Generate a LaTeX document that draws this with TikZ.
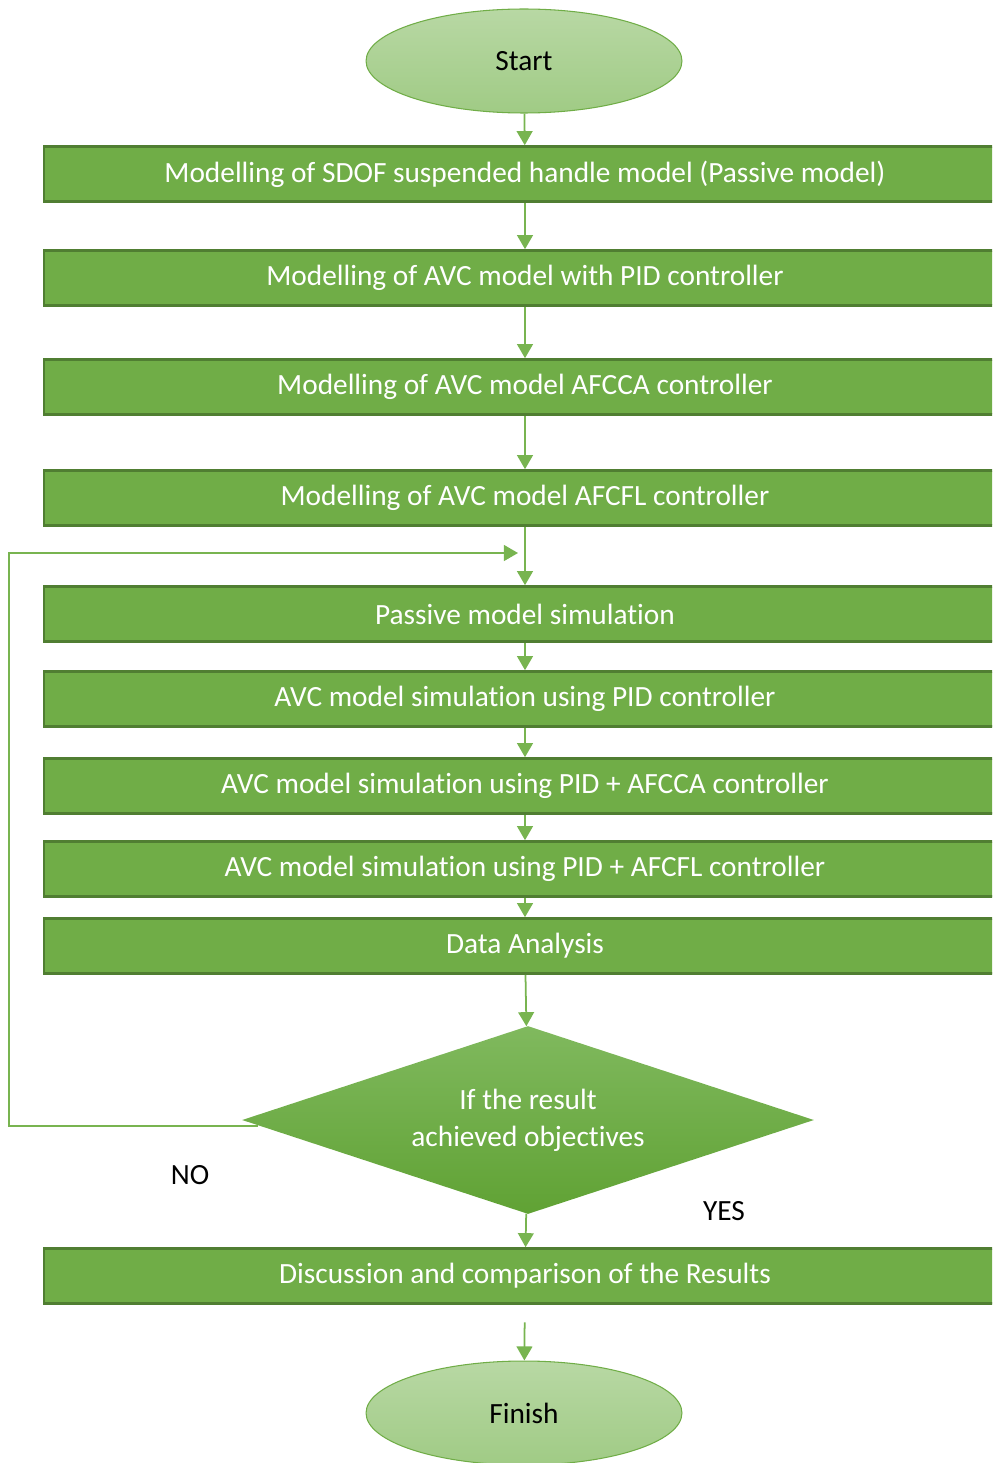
\documentclass[tikz,border=0pt]{standalone}
\usepackage{xcolor}
\usepackage{tikz}
\usepackage{fontspec}
\setmainfont{Carlito}[Ligatures=NoCommon]
\definecolor{boxgreen}{HTML}{70AD47}
\definecolor{edgegreen}{HTML}{507E32}
\definecolor{linegreen}{HTML}{78B450}
\definecolor{ovaltop}{HTML}{B8D8A4}
\definecolor{ovalbot}{HTML}{A0CB85}
\definecolor{diamtop}{HTML}{80B95E}
\definecolor{diambot}{HTML}{60A234}
\usetikzlibrary{shapes.geometric, arrows.meta, positioning, calc}

\tikzset{
  stepbox/.style={rectangle, fill=boxgreen, draw=edgegreen, line width=1.5pt,
    minimum width=19.24cm, minimum height=1.1cm, text=white,
    font=\fontsize{16.7}{20}\selectfont},
  terminal/.style={ellipse, draw=boxgreen, line width=0.6pt,
    top color=ovaltop, bottom color=ovalbot,
    minimum width=6.32cm, minimum height=2.08cm,
    font=\fontsize{16.7}{20}\selectfont},
  decision/.style={diamond, aspect=3, top color=diamtop, bottom color=diambot,
    minimum width=11.44cm, minimum height=3.76cm, text=white, align=center,
    font=\fontsize{16.7}{21}\selectfont},
  flow/.style={draw=linegreen, line width=1pt, -{Triangle[width=9pt,length=8pt]}},
  answer/.style={font=\fontsize{16.7}{20}\selectfont}
}

\begin{document}
\begin{tikzpicture}[x=0.02cm, y=-0.02cm]
\useasboundingbox (0,0) rectangle (992,1463);
\clip (0,0) rectangle (992,1463);

% Start and modelling steps
\node[terminal] (start) at (524,61) {Start};
\node[stepbox] (b1) at (525,174) {Modelling of SDOF suspended handle model (Passive model)};
\node[stepbox] (b2) at (525,278) {Modelling of AVC model with PID controller};
\node[stepbox] (b3) at (525,387) {Modelling of AVC model AFCCA controller};
\node[stepbox] (b4) at (525,498) {Modelling of AVC model AFCFL controller};

% Simulation steps
\node[stepbox] (b5) at (525,614) {Passive model simulation};
\node[stepbox] (b6) at (525,699) {AVC model simulation using PID controller};
\node[stepbox] (b7) at (525,786) {AVC model simulation using PID + AFCCA controller};
\node[stepbox] (b8) at (525,869) {AVC model simulation using PID + AFCFL controller};
\node[stepbox] (b9) at (525,946) {Data Analysis};

% Decision and end
\node[decision] (test) at (528,1120) {If the result\\achieved objectives};
\node[answer] (no) at (190,1175) {NO};
\node[answer] (yes) at (724,1211) {YES};
\node[stepbox] (b10) at (525,1276) {Discussion and comparison of the Results};
\node[terminal] (finish) at (524,1413) {Finish};

% Connectors
\draw[flow] (start) -- (b1);
\foreach \a/\b in {b1/b2, b2/b3, b3/b4, b4/b5, b5/b6, b6/b7, b7/b8, b8/b9, b9/test, test/b10} {
  \draw[flow] (\a) -- (\b);
}
\draw[flow, shorten <=10pt] (b10) -- (finish);

% Loop back when objectives are not met
\coordinate (back) at (518,553);
\draw[flow] ([xshift=0.32cm, yshift=-0.12cm]test.west) -- ++(-249,0) |- (back);
\end{tikzpicture}
\end{document}
